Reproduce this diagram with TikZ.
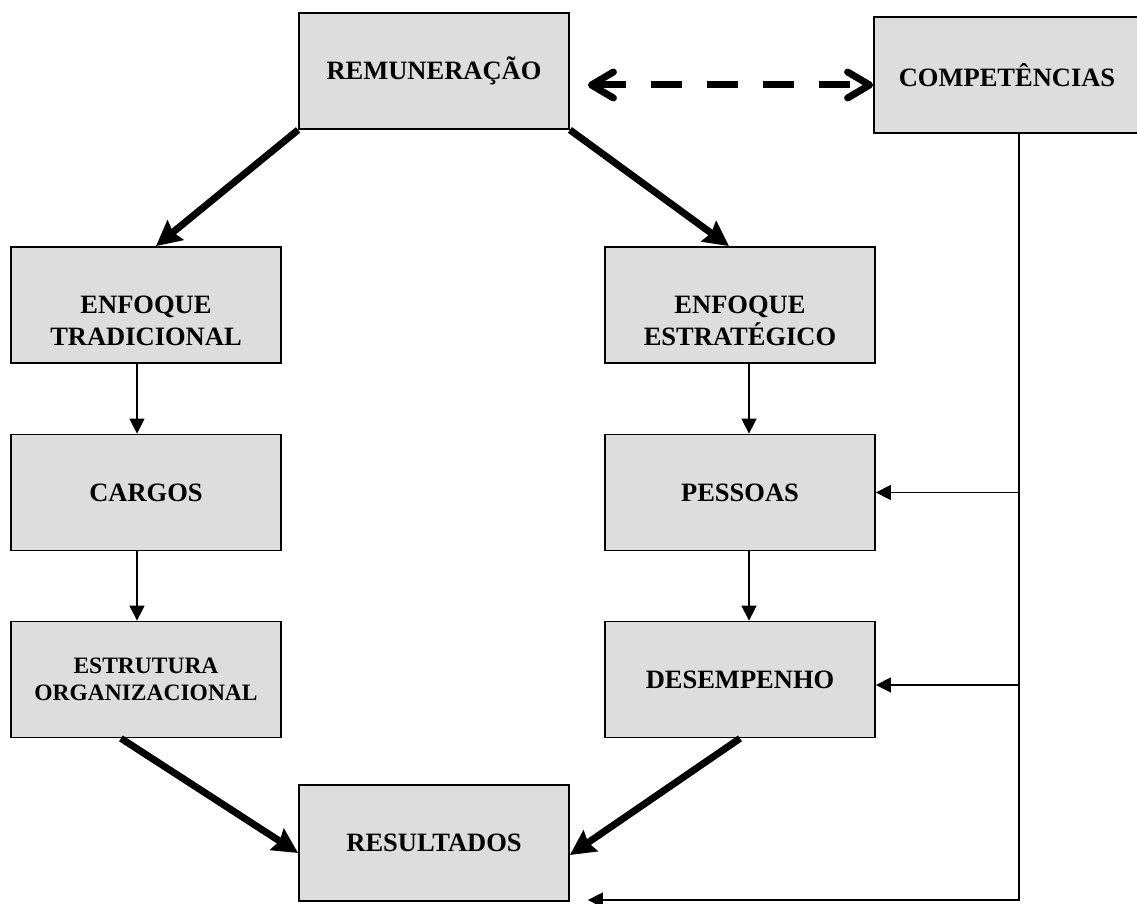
\documentclass[tikz,border=0pt]{standalone}
\usepackage{fontspec}
\setmainfont{Liberation Serif}
\usetikzlibrary{arrows.meta,calc}
\definecolor{boxfill}{RGB}{221,221,221}
\begin{document}
\begin{tikzpicture}[x=1pt,y=-1pt,
  box/.style={draw=black, line width=1.8pt, fill=boxfill,
    minimum width=270pt, minimum height=116pt, inner sep=0pt,
    align=center, font=\fontsize{26.5}{32}\selectfont\bfseries},
  smallbox/.style={box, font=\fontsize{23.5}{27}\selectfont\bfseries},
  heavy/.style={line width=7pt, -{Stealth[length=25pt,width=25pt,inset=3pt]}},
  light/.style={line width=1.5pt, -{Triangle[length=15pt,width=15pt]}},
  dasharrow/.style={line width=7pt, dash pattern=on 31pt off 25pt,
    {Straight Barb[length=22pt,width=26pt,round]}-{Straight Barb[length=22pt,width=26pt,round]}}
]
\useasboundingbox (0,0) rectangle (1137,904);

% boxes
\node[box] (rem) at (434,71) {REMUNERAÇÃO};
\node[box, minimum width=266pt] (comp) at (1007,75) {COMPETÊNCIAS};
\node[box] (et) at (146,305) {\vphantom{E}\\ENFOQUE\\TRADICIONAL};
\node[box] (ee) at (740,305) {\vphantom{E}\\ENFOQUE\\ESTRATÉGICO};
\node[box] (cg) at (146,492.5) {CARGOS};
\node[box] (ps) at (740,492.5) {PESSOAS};
\node[smallbox] (eo) at (146,679.5) {ESTRUTURA\\ORGANIZACIONAL};
\node[box] (de) at (740,679.5) {DESEMPENHO};
\node[box] (re) at (434,843) {RESULTADOS};

% two-way dashed link
\draw[dasharrow] ($(rem.east |- 0,85)+(18,0)$) -- (comp.west |- 0,85);

% heavy arrows
\draw[heavy] (rem.south west) -- ($(et.north)+(10,0)$);
\draw[heavy] (rem.south east) -- ($(ee.north)+(-11,0)$);
\draw[heavy] ($(eo.south)+(-25,0)$) -- ($(re.west)+(0,10)$);
\draw[heavy] (de.south) -- ($(re.east)+(0,12)$);

% column arrows
\draw[light] ($(et.south)+(-9,0)$) -- ($(cg.north)+(-9,0)$);
\draw[light] ($(cg.south)+(-9,0)$) -- ($(eo.north)+(-9,0)$);
\draw[light] ($(ee.south)+(9,0)$) -- ($(ps.north)+(9,0)$);
\draw[light] ($(ps.south)+(9,0)$) -- ($(de.north)+(9,0)$);

% feedback bus from COMPETÊNCIAS
\coordinate (bustop) at ($(comp.south)+(12,0)$);
\coordinate (busbottom) at (bustop |- 0,900);
\draw[light] (bustop) -- (busbottom) -- ($(re.east |- busbottom)+(18,0)$);
\draw[light] (bustop |- ps.east) -- (ps.east);
\draw[light] (bustop |- 0,685) -- (de.east |- 0,685);
\end{tikzpicture}
\end{document}
